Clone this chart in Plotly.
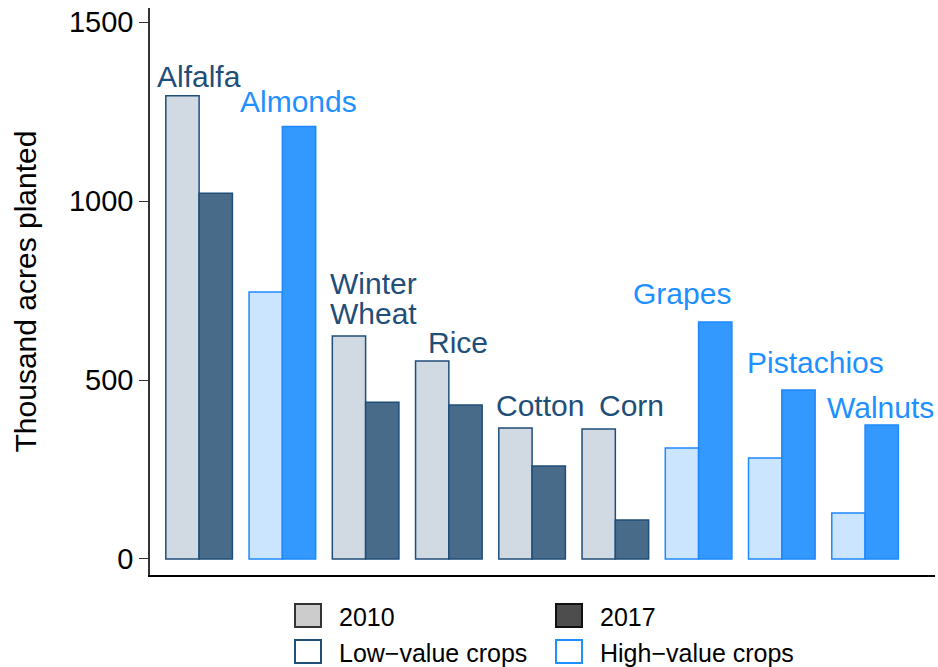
import plotly.graph_objects as go

crops = ["Alfalfa", "Almonds", "Winter Wheat", "Rice", "Cotton", "Corn", "Grapes", "Pistachios", "Walnuts"]
crop_type = ["low", "high", "low", "low", "low", "low", "high", "high", "high"]
acres_2010 = [1295, 746, 623, 553, 366, 363, 310, 282, 128]
acres_2017 = [1022, 1209, 438, 430, 260, 109, 662, 472, 374]
y_ticks = [0, 500, 1000, 1500]
label_lines = [["Alfalfa"], ["Almonds"], ["Winter", "Wheat"], ["Rice"], ["Cotton"],
               ["Corn"], ["Grapes"], ["Pistachios"], ["Walnuts"]]
# label placement (category-unit shift, value-unit lift above tallest bar)
label_dx = [0.0, 0.19, 0.10, 0.11, 0.10, 0.20, -0.20, 0.41, 0.19]
label_lift = [3, 17, 10, 0, 12, 15, 28, 26, -3]
LINE_STEP = 84  # value units between stacked label lines

FILL = {"low": ("#d1d9e2", "#496b8a"), "high": ("#cce5ff", "#3399ff")}
EDGE = {"low": "#1f4e79", "high": "#1e88ff"}
TXT = {"low": "#1f4e79", "high": "#1e90ff"}
FONT = "Liberation Sans, Arial, sans-serif"

FIG_W, FIG_H = 938, 667
PL, PR, PT, PB = 150, 935, 8, 575
W, H = PR - PL, PB - PT

fig = go.Figure()
fig.add_trace(go.Bar(
    x=crops, y=acres_2010, name="2010",
    marker=dict(color=[FILL[t][0] for t in crop_type],
                line=dict(color=[EDGE[t] for t in crop_type], width=1.5)),
    showlegend=False))
fig.add_trace(go.Bar(
    x=crops, y=acres_2017, name="2017",
    marker=dict(color=[FILL[t][1] for t in crop_type],
                line=dict(color=[EDGE[t] for t in crop_type], width=1.5)),
    showlegend=False))

annotations = []
for i, c in enumerate(crops):
    base = max(acres_2010[i], acres_2017[i]) + label_lift[i]
    lines = label_lines[i]
    for k, line in enumerate(lines):
        annotations.append(dict(
            x=i + label_dx[i], y=base + (len(lines) - 1 - k) * LINE_STEP,
            xref="x", yref="y", text=line, showarrow=False,
            xanchor="center", yanchor="bottom",
            font=dict(family=FONT, size=30, color=TXT[crop_type[i]])))


def px(xp):
    return (xp - PL) / W


def py(yp):
    return (PB - yp) / H


annotations.append(dict(
    x=px(25), y=0.5, xref="paper", yref="paper", text="Thousand acres planted",
    textangle=-90, showarrow=False, xanchor="center", yanchor="middle",
    font=dict(family=FONT, size=30, color="black")))

# manual legend (2 x 2 grid)
legend_items = [
    ("2010", 294, 603, "#cccccc", "#333333"),
    ("2017", 555, 603, "#4d4d4d", "#111111"),
    ("Low\u2212value crops", 294, 639, "white", "#1f4e79"),
    ("High\u2212value crops", 555, 639, "white", "#1e90ff"),
]
shapes = []
for text, lx, ly, fill, edge in legend_items:
    shapes.append(dict(type="rect", xref="paper", yref="paper",
                       x0=px(lx + 1), x1=px(lx + 27), y0=py(ly + 1), y1=py(ly + 24),
                       fillcolor=fill, line=dict(color=edge, width=2)))
    annotations.append(dict(
        x=px(lx + 43), y=py(ly + 14), xref="paper", yref="paper", text=text,
        showarrow=False, xanchor="left", yanchor="middle",
        font=dict(family=FONT, size=25, color="black")))

fig.update_layout(
    width=FIG_W, height=FIG_H,
    margin=dict(l=PL, r=FIG_W - PR, t=PT, b=FIG_H - PB, pad=0),
    paper_bgcolor="white", plot_bgcolor="white",
    barmode="group", bargap=0.2, bargroupgap=0.0,
    font=dict(family=FONT, size=29, color="black"),
    xaxis=dict(type="category", range=[-0.59, 8.84], showticklabels=False,
               ticks="", showgrid=False, zeroline=False,
               showline=True, linecolor="black", linewidth=1.5),
    yaxis=dict(range=[-45, 1540], tickvals=y_ticks, ticks="outside", ticklen=9,
               tickwidth=1, tickcolor="#333333", ticklabeloverflow="allow",
               showgrid=False, zeroline=False, showline=True, linecolor="#333333",
               linewidth=1.5, tickfont=dict(family=FONT, size=29, color="black")),
    annotations=annotations, shapes=shapes,
)

fig.write_html(
    "out.html",
    config={"displayModeBar": False},
    post_script="document.body.style.margin='0px';document.body.style.overflow='hidden';",
)
